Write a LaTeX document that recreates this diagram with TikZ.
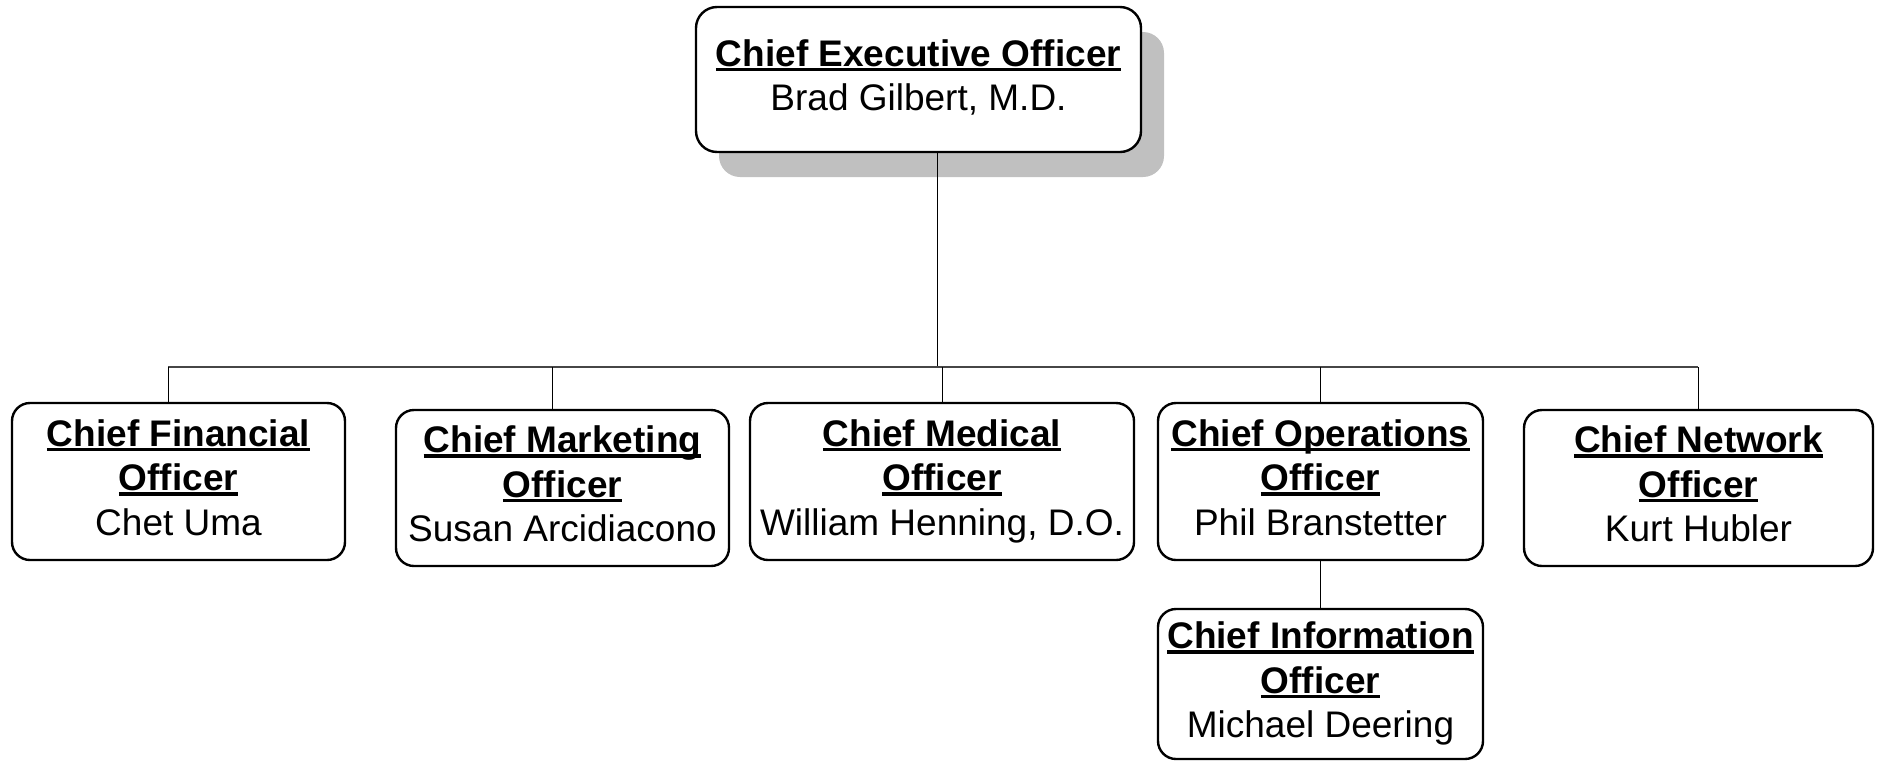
\documentclass[tikz,border=0pt]{standalone}
\usepackage{fontspec}
\setmainfont{Liberation Sans}
\usetikzlibrary{shadows}
\definecolor{shadowgray}{RGB}{192,192,192}
\definecolor{linegray}{RGB}{70,70,70}
% bold title with a heavy underline
\newcommand{\ttl}[1]{\setbox0=\hbox{\bfseries #1}\rlap{\rule[-5pt]{\wd0}{3.4pt}}\box0}
\tikzset{
  office/.style={draw=black, line width=2.4pt, rounded corners=18pt, fill=white,
    inner sep=0pt, align=center, text depth=8.5pt, font=\fontsize{37}{44.5}\selectfont},
  conn/.style={draw=black, line width=1pt},
  bus/.style={draw=linegray, line width=1.3pt}
}
\begin{document}
\begin{tikzpicture}[x=1pt,y=-1pt]
\useasboundingbox (0,0) rectangle (1881,761);

% top box with its grey shadow
\node[office, rounded corners=21pt, minimum width=445pt, minimum height=145pt,
  drop shadow={shadow xshift=23pt, shadow yshift=-25pt, fill=shadowgray, opacity=1}]
  (ceo) at (918.5,79.5) {\ttl{Chief Executive Officer}\\Brad Gilbert, M.D.};

% direct reports
\node[office, minimum width=333pt, minimum height=157pt] (cfo) at (178.5,481.5)
  {\ttl{Chief Financial}\\\ttl{Officer}\\Chet Uma};
\node[office, minimum width=333pt, minimum height=156pt] (cmo) at (562.5,488)
  {\ttl{Chief Marketing}\\\ttl{Officer}\\Susan Arcidiacono};
\node[office, minimum width=384pt, minimum height=157pt] (cmedo) at (942,481.5)
  {\ttl{Chief Medical}\\\ttl{Officer}\\William Henning, D.O.};
\node[office, minimum width=325pt, minimum height=157pt] (coo) at (1320.5,481.5)
  {\ttl{Chief Operations}\\\ttl{Officer}\\Phil Branstetter};
\node[office, minimum width=349pt, minimum height=156pt] (cno) at (1698.5,488)
  {\ttl{Chief Network}\\\ttl{Officer}\\Kurt Hubler};
\node[office, minimum width=325pt, minimum height=150pt] (cio) at (1320.5,684)
  {\ttl{Chief Information}\\\ttl{Officer}\\Michael Deering};

% bus junctions
\coordinate (j0) at (937,367);
\coordinate (j1) at (168,367);
\coordinate (j2) at (552,367);
\coordinate (j3) at (942,367);
\coordinate (j4) at (1320.5,367);
\coordinate (j5) at (1698,367);

% connectors
\draw[conn] (ceo.south -| j0) -- (j0);
\draw[bus] (j1) -- (j5);
\draw[conn] (j1) -- (j1 |- cfo.north);
\draw[conn] (j2) -- (j2 |- cmo.north);
\draw[conn] (j3) -- (j3 |- cmedo.north);
\draw[conn] (j4) -- (coo.north);
\draw[conn] (j5) -- (j5 |- cno.north);
\draw[conn] (coo.south) -- (cio.north);
\end{tikzpicture}
\end{document}
